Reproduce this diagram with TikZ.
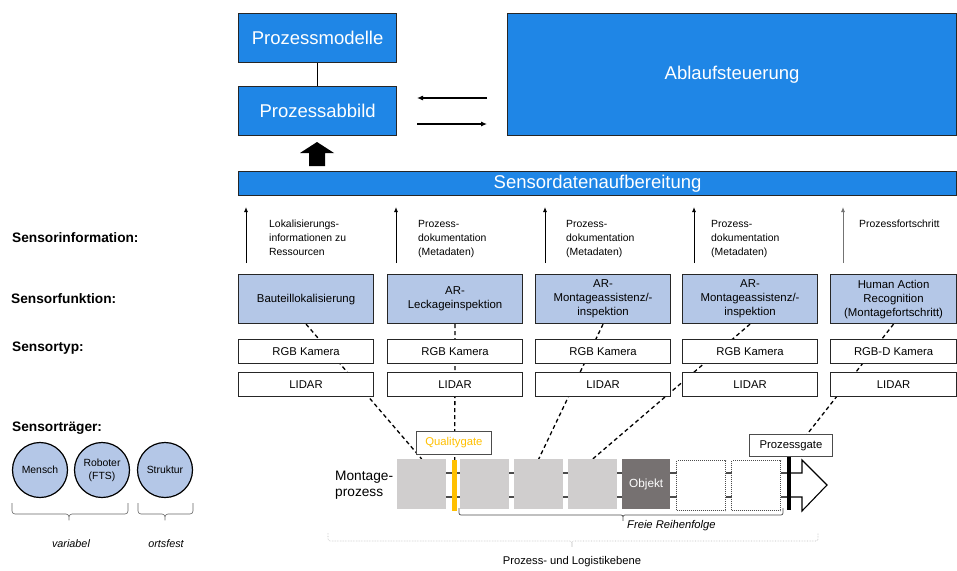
\documentclass[tikz,border=0pt]{standalone}
\usepackage{fontspec}
\setmainfont{Liberation Sans}
\usetikzlibrary{arrows.meta,backgrounds}
\definecolor{pblue}{RGB}{31,134,230}
\definecolor{lblue}{RGB}{180,199,231}
\definecolor{pgrey}{RGB}{208,206,206}
\definecolor{dgrey}{RGB}{118,113,113}
\definecolor{qgold}{RGB}{255,192,0}
\definecolor{edge}{RGB}{38,38,38}
\definecolor{lgrey}{RGB}{190,190,190}
\begin{document}
\begin{tikzpicture}[x=1pt,y=-1pt,
  bluebox/.style={draw=edge, line width=1.2pt, fill=pblue, text=white, font=\fontsize{18.5}{21}\selectfont, inner sep=0pt, anchor=north west},
  funcbox/.style={draw=edge, line width=1.1pt, fill=lblue, font=\fontsize{11.4}{14}\selectfont, align=center, inner sep=0pt, anchor=north west, minimum width=135, minimum height=49},
  typebox/.style={draw=edge, line width=1.1pt, fill=white, font=\fontsize{11.3}{13}\selectfont, inner sep=0pt, anchor=north west, minimum width=135, minimum height=24},
  infotext/.style={font=\fontsize{10.4}{14}\selectfont, align=left, anchor=north west, inner sep=0pt},
  rowlabel/.style={font=\bfseries\fontsize{13.7}{16}\selectfont, anchor=west, inner sep=0pt},
  upline/.style={line width=0.9pt, -{Latex[length=5pt,width=4pt]}},
  dashline/.style={line width=1.3pt, dash pattern=on 4pt off 3pt},
  carrier/.style={circle, draw=black, line width=1.2pt, fill=lblue, minimum size=55, inner sep=0pt, font=\fontsize{10.4}{13}\selectfont, align=center},
  procbox/.style={fill=pgrey, inner sep=0pt, anchor=north west, minimum width=49, minimum height=50},
  gatebox/.style={draw=black!70, line width=0.9pt, fill=white, inner sep=0pt, anchor=north west, font=\fontsize{11.3}{13}\selectfont},
  brace/.style={line width=0.6pt, draw=black!60, rounded corners=3pt},
  bottomtext/.style={font=\fontsize{11.2}{13}\selectfont, inner sep=0pt}
]
\useasboundingbox (0,0) rectangle (957,570);

% top blocks
\node[bluebox, minimum width=158, minimum height=49] (pm) at (238,13) {Prozessmodelle};
\node[bluebox, minimum width=158, minimum height=49] (pa) at (238,86) {Prozessabbild};
\node[bluebox, minimum width=449, minimum height=122] (abl) at (507,13) {Ablaufsteuerung};
\node[bluebox, minimum width=718, minimum height=24] (sd) at (238,171) {Sensordatenaufbereitung};
\draw[line width=1.1pt] (pm) -- (pa);
\coordinate (a1s) at (487,98); \coordinate (a1e) at (417,98);
\coordinate (a2s) at (417,124); \coordinate (a2e) at (487,124);
\draw[line width=1.1pt, -{Latex[length=6pt,width=5pt]}] (a1s) -- (a1e);
\draw[line width=1.1pt, -{Latex[length=6pt,width=5pt]}] (a2s) -- (a2e);
\fill (309,166) -- (325,166) -- (325,153) -- (334,153) -- (317,142) -- (300,153) -- (309,153) -- cycle;

% row labels
\node[rowlabel] (lInfo) at (12,238) {Sensorinformation:};
\node[rowlabel] (lFunc) at (11,299) {Sensorfunktion:};
\node[rowlabel] (lTyp) at (12,348) {Sensortyp:};
\node[rowlabel] (lTraeger) at (12,428) {Sensorträger:};

% sensor information arrows and texts
\coordinate (u1b) at (246,263); \coordinate (u1t) at (246,207);
\coordinate (u2b) at (396,263); \coordinate (u2t) at (396,207);
\coordinate (u3b) at (545,263); \coordinate (u3t) at (545,207);
\coordinate (u4b) at (694,263); \coordinate (u4t) at (694,207);
\coordinate (u5b) at (843,263); \coordinate (u5t) at (843,207);
\draw[upline] (u1b) -- (u1t);
\draw[upline] (u2b) -- (u2t);
\draw[upline] (u3b) -- (u3t);
\draw[upline] (u4b) -- (u4t);
\draw[upline, draw=black!55] (u5b) -- (u5t);
\node[infotext] (i1) at (269,220) {Lokalisierungs-\\informationen zu\\Ressourcen};
\node[infotext] (i2) at (418,220) {Prozess-\\dokumentation\\(Metadaten)};
\node[infotext] (i3) at (566,220) {Prozess-\\dokumentation\\(Metadaten)};
\node[infotext] (i4) at (711,220) {Prozess-\\dokumentation\\(Metadaten)};
\node[infotext] (i5) at (859,220) {Prozessfortschritt};

% sensor functions
\node[funcbox] (f1) at (238,274) {Bauteillokalisierung};
\node[funcbox] (f2) at (387,274) {AR-\\Leckageinspektion};
\node[funcbox] (f3) at (535,274) {AR-\\Montageassistenz/-\\inspektion};
\node[funcbox] (f4) at (682,274) {AR-\\Montageassistenz/-\\inspektion};
\node[funcbox, minimum width=126] (f5) at (830,274) {Human Action\\Recognition\\(Montagefortschritt)};

% sensor types
\node[typebox] (r1) at (238,339) {RGB Kamera};
\node[typebox] (r2) at (387,339) {RGB Kamera};
\node[typebox] (r3) at (535,339) {RGB Kamera};
\node[typebox] (r4) at (682,339) {RGB Kamera};
\node[typebox, minimum width=126] (r5) at (830,339) {RGB-D Kamera};
\node[typebox] (l1) at (238,372) {LIDAR};
\node[typebox] (l2) at (387,372) {LIDAR};
\node[typebox] (l3) at (535,372) {LIDAR};
\node[typebox] (l4) at (682,372) {LIDAR};
\node[typebox, minimum width=126] (l5) at (830,372) {LIDAR};

% carriers
\node[carrier] (mensch) at (40,470) {Mensch};
\node[carrier] (roboter) at (102,470) {Roboter\\(FTS)};
\node[carrier] (struktur) at (165,470) {Struktur};
\coordinate (bv1) at (12,503); \coordinate (bv2) at (128,503);
\coordinate (bo1) at (138,503); \coordinate (bo2) at (193,503);
\draw[brace] (bv1) -- ++(0,11) -- (69,514) -- ++(0,8) -- ++(0,-8) -- (128,514) -- (bv2);
\draw[brace] (bo1) -- ++(0,11) -- (165,514) -- ++(0,8) -- ++(0,-8) -- (193,514) -- (bo2);
\node[bottomtext, font=\itshape\fontsize{10.8}{13}\selectfont] (tvar) at (71,544) {variabel};
\node[bottomtext, font=\itshape\fontsize{10.8}{13}\selectfont] (tort) at (166,544) {ortsfest};

% process
\node[font=\fontsize{13.7}{16}\selectfont, align=left, anchor=west, inner sep=0pt] (mp) at (335,485) {Montage-\\prozess};
\node[procbox] (p1) at (397,459) {};
\node[procbox] (p2) at (460,459) {};
\node[procbox] (p3) at (514,459) {};
\node[procbox] (p4) at (568,459) {};
\node[procbox, fill=dgrey, minimum width=48, text=white, font=\fontsize{11.8}{13}\selectfont] (obj) at (622,459) {Objekt};
\node[procbox, fill=white, draw=black!70, densely dotted, line width=1pt, minimum width=49] (d1) at (676,460) {};
\node[procbox, fill=white, draw=black!70, densely dotted, line width=1pt, minimum width=49] (d2) at (731,460) {};
\node[fill=qgold, inner sep=0pt, anchor=north west, minimum width=5, minimum height=51] (qbar) at (452,460) {};
\draw[fill=white, line width=1.1pt] (789,473) -- (802,473) -- (802,460) -- (827,485) -- (802,511) -- (802,497) -- (789,497);
\node[fill=black, inner sep=0pt, anchor=north west, minimum width=4, minimum height=53] (bbar) at (787,457) {};
\node[gatebox, minimum width=75, minimum height=23, text=qgold] (qg) at (416,431) {Qualitygate};
\node[gatebox, minimum width=83, minimum height=22] (pg) at (749,434) {Prozessgate};

\begin{pgfonlayer}{background}
\draw[line width=1.4pt, draw=black!70] (p1.east |- 0,473) -- (bbar.west |- 0,473);
\draw[line width=1.4pt, draw=black!70] (p1.east |- 0,497) -- (bbar.west |- 0,497);
\draw[dashline] (f1.south) -- (p1.north);
\draw[dashline] (f2.south) -- (qbar.north);
\draw[dashline] (f3.south) -- (p3.north);
\draw[dashline] (f4.south) -- (p4.north);
\draw[dashline] (f5.south) -- (bbar.north);
\end{pgfonlayer}

% Freie Reihenfolge bracket
\coordinate (fr1) at (459,508); \coordinate (fr2) at (783,508);
\draw[line width=0.7pt, draw=black!70, rounded corners=2pt] (fr1) -- (459,515) -- (623,515) -- ++(0,7) -- ++(0,-7) -- (783,515) -- (fr2);
\node[bottomtext, font=\itshape\fontsize{11.2}{13}\selectfont, anchor=west] (frt) at (627,526) {Freie Reihenfolge};

% Prozess- und Logistikebene bracket
\coordinate (pl1) at (328,533); \coordinate (pl2) at (818,533);
\draw[line width=0.6pt, draw=lgrey, densely dotted, rounded corners=2pt] (pl1) -- (328,541) -- (572,541) -- ++(0,7) -- ++(0,-7) -- (818,541) -- (pl2);
\node[bottomtext] (plt) at (572,562) {Prozess- und Logistikebene};
\end{tikzpicture}
\end{document}
